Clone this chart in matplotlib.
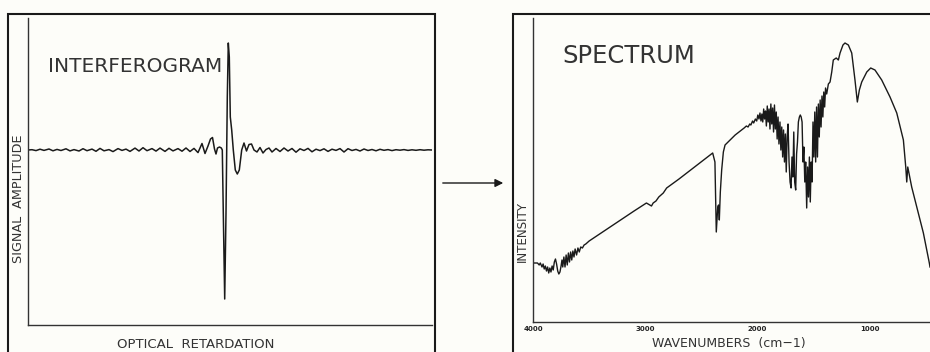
import matplotlib
matplotlib.use("Agg")
import matplotlib.pyplot as plt
from matplotlib.patches import Rectangle

# interferogram: retardation (arbitrary units) vs signal amplitude
retardation = [
    28, 32, 36, 40, 44, 49, 53, 57, 61, 66, 70, 74, 79, 83, 87, 92, 96, 100,
    104, 109, 113, 118, 122, 126, 130, 135, 139, 143, 147, 152, 156, 160, 165,
    169, 173, 178, 182, 186, 190, 194, 198, 202, 205, 208, 210.5, 212.5, 214.5,
    216, 217.5, 219.5, 221.3, 222.3, 223.3, 224.7, 226, 227.3, 228.3, 229.3,
    230.3, 231.7, 233.3, 235.3, 237.3, 239.3, 241.7, 244, 246.5, 249, 251.5,
    254, 257, 260, 263, 266, 269, 272, 276, 280, 284, 288, 292, 296, 300, 304,
    308, 312, 316, 320, 324, 328, 332, 336, 340, 344, 348, 352, 356, 360, 364,
    368, 372, 376, 380, 384, 388, 392, 396, 400, 404, 408, 412, 416, 420, 424,
    428, 432,
]
amplitude = [
    0, 0.3, -0.6, 0.8, -0.4, 1.0, -0.8, 0.6, -0.5, 1.2, -0.9, 0.4, -1.0, 1.3,
    -0.7, 0.9, -1.3, 1.6, -0.8, 0.4, -1.6, 1.4, -0.4, 0.9, -1.4, 1.9, -1.0, 2.3,
    -0.7, 1.4, -1.1, 1.9, -1.4, 1.7, -0.9, 1.4, -1.2, 2.0, -1.5, 1.6, -2.6, 6.5,
    -3.5, 4, 11, 12.5, 1, -4, 2, 3, 2, 0, -63, -149, -63, 53, 107, 93, 33, 20,
    0, -20, -24, -20, 0, 7, -1, 5.5, 6, 0, -2, 2.5, -3, 0.5, 2, -2, 1.5, -1.5,
    2, -1, 1.5, -2.2, 1.2, -0.5, 1.6, -1.8, 0.8, -0.6, 1.2, -1.4, 0.8, -0.4,
    1.4, -2.0, 1.3, -0.5, 0.6, -1.0, 1.0, -0.5, 0.5, -0.8, 0.7, -0.3, 0.4,
    -0.6, 0.3, -0.2, 0.4, -0.4, 0.2, -0.3, 0.3, -0.2, 0.2, 0,
]

# spectrum: wavenumber (cm-1) vs intensity (arbitrary units)
wavenumber = [
    4000, 3960, 3945, 3935, 3920, 3910, 3900, 3890, 3880, 3870, 3860, 3850,
    3840, 3830, 3820, 3810, 3800, 3790, 3780, 3770, 3760, 3750, 3742, 3735,
    3725, 3715, 3705, 3695, 3685, 3675, 3665, 3655, 3645, 3635, 3625, 3612,
    3600, 3588, 3575, 3560, 3545, 3530, 3500, 3300, 3100, 2990, 2960, 2945,
    2930, 2905, 2880, 2860, 2840, 2810, 2700, 2550, 2400, 2380, 2368, 2355,
    2348, 2341, 2332, 2320, 2305, 2290, 2200, 2120, 2100, 2085, 2070, 2060,
    2045, 2035, 2020, 2008, 1998, 1988, 1979, 1970, 1962, 1954, 1946, 1938,
    1930, 1922, 1914, 1906, 1898, 1890, 1882, 1874, 1866, 1858, 1850, 1842,
    1834, 1826, 1818, 1810, 1801, 1793, 1785, 1777, 1769, 1761, 1753, 1745,
    1737, 1729, 1720, 1711, 1702, 1694, 1686, 1678, 1670, 1661, 1653, 1645,
    1637, 1628, 1620, 1612, 1604, 1596, 1588, 1580, 1572, 1563, 1555, 1547,
    1539, 1531, 1523, 1515, 1507, 1499, 1491, 1483, 1475, 1467, 1459, 1451,
    1443, 1435, 1427, 1419, 1411, 1403, 1395, 1385, 1370, 1355, 1340, 1326,
    1300, 1281, 1266, 1240, 1222, 1192, 1162, 1133, 1112, 1094, 1073, 1028,
    993, 955, 895, 821, 761, 702, 681, 672, 663, 628, 569, 524, 471, 465,
]
intensity = [
    59, 59, 57, 59, 55, 58, 53, 56, 51, 55, 49, 54, 50, 56, 52, 60, 63, 58,
    51, 48, 50, 56, 62, 55, 65, 55, 67, 57, 69, 60, 70, 62, 71, 65, 73, 67,
    74, 70, 75, 74, 77, 78, 81, 96, 111, 119, 117, 116, 119, 121, 125, 127,
    129, 134, 143, 156, 169, 160, 90, 115, 117, 102, 130, 152, 170, 177, 187,
    194, 196, 195, 198, 197, 201, 199, 203, 201, 207, 203, 209, 201, 208, 200,
    213, 203, 211, 196, 216, 200, 213, 193, 218, 198, 214, 190, 217, 193, 210,
    183, 205, 178, 200, 172, 195, 165, 192, 160, 188, 150, 185, 198, 160, 140,
    134, 165, 145, 190, 140, 132, 168, 180, 200, 205, 207, 205, 200, 160, 175,
    140, 160, 114, 155, 125, 165, 120, 160, 140, 200, 165, 210, 160, 215, 165,
    218, 185, 222, 195, 226, 205, 230, 215, 234, 228, 238, 240, 250, 262, 264,
    262, 269, 277, 279, 277, 269, 242, 220, 232, 240, 250, 254, 252, 242, 225,
    209, 182, 155, 140, 155, 135, 109, 89, 59, 55,
]
wn_ticks = [4000, 3000, 2000, 1000]

bg = "#fdfdf9"
ink = "#1a1a1a"

fig = plt.figure(figsize=(9.3, 3.52), dpi=100, facecolor=bg)

# left panel
ax1 = fig.add_axes([28 / 930, 27 / 352, 404 / 930, 307 / 352], facecolor=bg)
ax1.plot(retardation, amplitude, color=ink, lw=1.1)
ax1.set_xlim(28, 432)
ax1.set_ylim(-175, 132)
ax1.set_xticks([])
ax1.set_yticks([])
for side in ["top", "right"]:
    ax1.spines[side].set_visible(False)
for side in ["left", "bottom"]:
    ax1.spines[side].set_color("#333333")
    ax1.spines[side].set_linewidth(1.0)

# right panel
ax2 = fig.add_axes([533 / 930, 30 / 352, 397 / 930, 304 / 352], facecolor=bg)
ax2.plot(wavenumber, intensity, color=ink, lw=1.0)
ax2.set_xlim(4000, 465)
ax2.set_ylim(0, 304)
ax2.set_xticks(wn_ticks)
ax2.set_xticklabels([str(t) for t in wn_ticks], fontsize=5, fontweight="bold", color="#222222")
ax2.tick_params(axis="x", length=0, pad=3)
ax2.set_yticks([])
for side in ["top", "right"]:
    ax2.spines[side].set_visible(False)
for side in ["left", "bottom"]:
    ax2.spines[side].set_color("#333333")
    ax2.spines[side].set_linewidth(1.0)

# outer frames around each panel
for x0, w in [(8 / 930, 427 / 930), (513 / 930, 0.5)]:
    fig.add_artist(Rectangle((x0, -0.05), w, 0.9602 + 0.05, transform=fig.transFigure,
                             fill=False, edgecolor=ink, lw=1.5, clip_on=False))

# labels
fig.text(48 / 930, 1 - 72 / 352, "INTERFEROGRAM", fontsize=14.5, color="#333333", va="baseline")
fig.text(562 / 930, 1 - 63 / 352, "SPECTRUM", fontsize=17.5, color="#333333", va="baseline")
fig.text(18 / 930, 1 - 199 / 352, "SIGNAL  AMPLITUDE", fontsize=9.2, color="#333333",
         rotation=90, ha="center", va="center")
fig.text(522 / 930, 1 - 232 / 352, "INTENSITY", fontsize=8.6, color="#333333",
         rotation=90, ha="center", va="center")
fig.text(196 / 930, 1 - 348 / 352, "OPTICAL  RETARDATION", fontsize=9.5, color="#333333",
         ha="center", va="baseline")
fig.text(729 / 930, 1 - 347 / 352, "WAVENUMBERS  (cm\u22121)", fontsize=9, color="#333333",
         ha="center", va="baseline")

# arrow from interferogram to spectrum
ax1.annotate("", xy=(506 / 930, 1 - 183 / 352), xytext=(440 / 930, 1 - 183 / 352),
             xycoords="figure fraction", textcoords="figure fraction",
             arrowprops=dict(arrowstyle="-|>", color=ink, lw=1.0, mutation_scale=12),
             annotation_clip=False)

fig.savefig("out.png", dpi=100, facecolor=bg)
